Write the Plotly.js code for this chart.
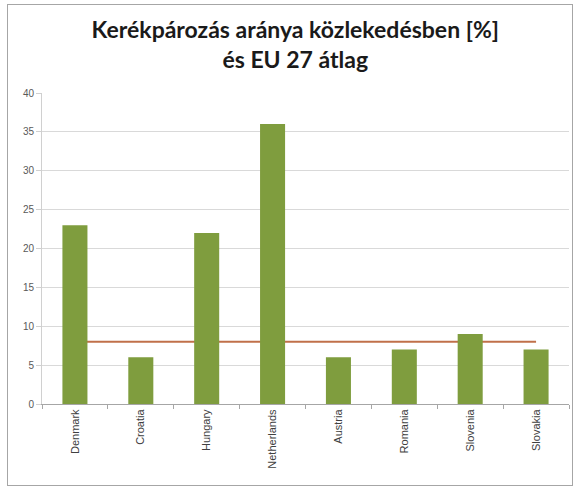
<!DOCTYPE html>
<html>
<head>
<meta charset="utf-8">
<script src="https://cdn.plot.ly/plotly-3.0.1.min.js"></script>
<style>
  html, body { margin: 0; padding: 0; background: #fff; }
  #chart { width: 579px; height: 489px; position: absolute; left: 0; top: 0; }
  #frame { position: absolute; left: 7px; top: 4px; width: 564px; height: 480px;
           border: 1.5px solid #a6a6a6; pointer-events: none; }
</style>
</head>
<body>
<div id="chart"></div>
<div id="frame"></div>
<script>
const countries = ["Denmark", "Croatia", "Hungary", "Netherlands", "Austria", "Romania", "Slovenia", "Slovakia"];
const cyclingShare = [23, 6, 22, 36, 6, 7, 9, 7];
const eu27Average = [8, 8, 8, 8, 8, 8, 8, 8];
const yTicks = [0, 5, 10, 15, 20, 25, 30, 35, 40];
const titleText = "Kerékpározás aránya közlekedésben [%]<br>és EU 27 átlag";

const lineTrace = {
  type: "scatter", mode: "lines",
  x: countries, y: eu27Average,
  xaxis: "x", yaxis: "y",
  line: { color: "#C0704A", width: 2 },
  hoverinfo: "skip", showlegend: false
};
const barTrace = {
  type: "bar",
  x: countries, y: cyclingShare,
  xaxis: "x", yaxis: "y2",
  marker: { color: "#7F9D3E", line: { width: 0 } },
  showlegend: false
};

const layout = {
  width: 579, height: 489,
  margin: { l: 42, r: 10, t: 93, b: 85 },
  paper_bgcolor: "#ffffff", plot_bgcolor: "#ffffff",
  bargap: 0.62,
  showlegend: false,
  title: {
    text: titleText,
    font: { family: "Lato, 'Open Sans', sans-serif", size: 23, color: "#1a1a1a", weight: "bold" },
    x: 0.51, xanchor: "center",
    y: 0.922, yanchor: "top", yref: "container"
  },
  xaxis: {
    type: "category",
    tickangle: -90,
    tickfont: { family: "'Liberation Sans', Arial, sans-serif", size: 11, color: "#404040" },
    showline: true, linecolor: "#a6a6a6", linewidth: 1,
    ticks: "outside", tickson: "boundaries", ticklen: 4, tickcolor: "#a6a6a6",
    showgrid: false, zeroline: false
  },
  yaxis: {
    range: [0, 40], tickvals: yTicks,
    tickfont: { family: "'Liberation Sans', Arial, sans-serif", size: 10, color: "#595959" },
    showline: true, linecolor: "#d0d0d0", linewidth: 1,
    ticks: "outside", ticklen: 5, tickcolor: "#d0d0d0",
    gridcolor: "#d9d9d9", gridwidth: 1, zeroline: false
  },
  yaxis2: {
    range: [0, 40], overlaying: "y", visible: false,
    showgrid: false, zeroline: false
  }
};

Plotly.newPlot("chart", [lineTrace, barTrace], layout, { displayModeBar: false, staticPlot: true });
</script>
</body>
</html>
